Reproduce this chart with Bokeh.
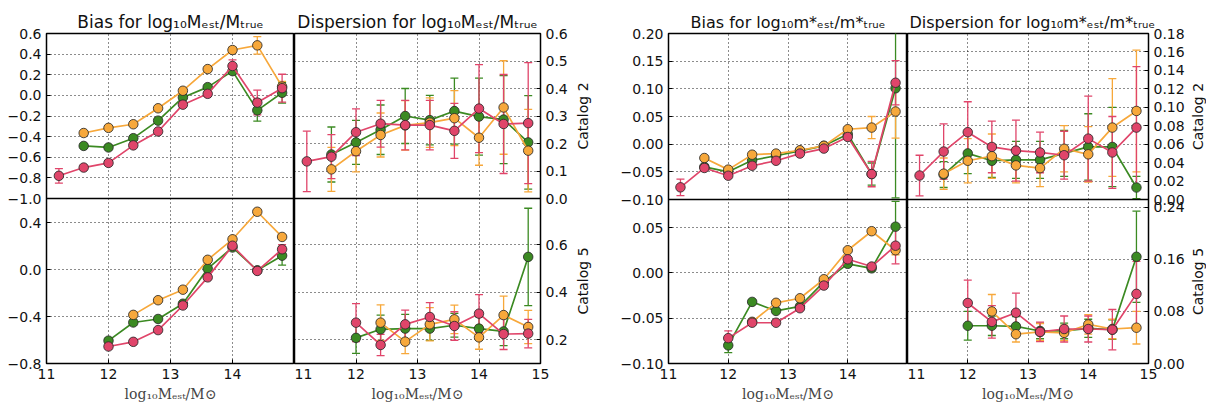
import numpy as np
from math import pi
from bokeh.plotting import figure
from bokeh.models import Range1d, FixedTicker, ColumnDataSource, Whisker, TeeHead, Span, Label
from bokeh.layouts import row
from bokeh.embed import file_html
from bokeh.resources import INLINE

nan = float("nan")

# ---------------- data ----------------
x_bins = [11.2, 11.6, 12.0, 12.4, 12.8, 13.2, 13.6, 14.0, 14.4, 14.8]
x_ticks = [11, 12, 13, 14, 15]

# Halo mass, bias, catalog 2
hm_bias_c2_green = [nan, -0.49, -0.505, -0.415, -0.245, -0.02, 0.08, 0.235, -0.145, 0.025]
hm_bias_c2_green_err = [nan, 0.02, 0.02, 0.02, 0.02, 0.02, 0.02, 0.03, 0.105, 0.10]
hm_bias_c2_orange = [nan, -0.365, -0.315, -0.28, -0.125, 0.045, 0.255, 0.44, 0.485, 0.085]
hm_bias_c2_orange_err = [nan, 0.02, 0.02, 0.02, 0.02, 0.02, 0.02, 0.03, 0.085, 0.05]
hm_bias_c2_red = [-0.78, -0.70, -0.655, -0.485, -0.35, -0.09, 0.015, 0.285, -0.07, 0.07]
hm_bias_c2_red_err = [0.07, 0.02, 0.02, 0.02, 0.02, 0.02, 0.02, 0.06, 0.12, 0.135]

# Halo mass, dispersion, catalog 2
hm_disp_c2_green = [nan, 0.16, 0.204, 0.25, 0.30, 0.285, 0.318, 0.298, 0.287, 0.204]
hm_disp_c2_green_err = [nan, 0.10, 0.08, 0.09, 0.10, 0.09, 0.12, 0.14, 0.16, 0.17]
hm_disp_c2_orange = [nan, 0.106, 0.172, 0.231, 0.266, 0.276, 0.292, 0.221, 0.331, 0.174]
hm_disp_c2_orange_err = [nan, 0.08, 0.075, 0.08, 0.09, 0.09, 0.10, 0.10, 0.17, 0.15]
hm_disp_c2_red = [0.135, 0.152, 0.241, 0.272, 0.267, 0.267, 0.246, 0.327, 0.271, 0.274]
hm_disp_c2_red_err = [0.11, 0.08, 0.085, 0.085, 0.09, 0.09, 0.10, 0.16, 0.18, 0.22]

# Halo mass, bias, catalog 5
hm_bias_c5_green = [nan, nan, -0.605, -0.45, -0.42, -0.29, 0.01, 0.19, -0.005, 0.12]
hm_bias_c5_green_err = [nan, nan, 0.02, 0.02, 0.02, 0.02, 0.02, 0.02, 0.02, 0.08]
hm_bias_c5_orange = [nan, nan, nan, -0.385, -0.26, -0.17, 0.085, 0.26, 0.495, 0.28]
hm_bias_c5_orange_err = [nan, nan, nan, 0.02, 0.02, 0.02, 0.02, 0.02, 0.02, 0.02]
hm_bias_c5_red = [nan, nan, -0.655, -0.615, -0.515, -0.305, -0.065, 0.205, -0.01, 0.175]
hm_bias_c5_red_err = [nan, nan, 0.02, 0.02, 0.02, 0.02, 0.02, 0.02, 0.02, 0.04]

# Halo mass, dispersion, catalog 5
hm_disp_c5_green = [nan, nan, 0.208, 0.244, 0.247, 0.247, 0.261, 0.247, 0.235, 0.549]
hm_disp_c5_green_err = [nan, nan, 0.065, 0.06, 0.06, 0.05, 0.05, 0.05, 0.06, 0.205]
hm_disp_c5_orange = [nan, nan, nan, 0.272, 0.192, 0.265, 0.286, 0.21, 0.304, 0.254]
hm_disp_c5_orange_err = [nan, nan, nan, 0.075, 0.05, 0.07, 0.06, 0.05, 0.08, 0.07]
hm_disp_c5_red = [nan, nan, 0.272, 0.178, 0.265, 0.296, 0.258, 0.31, 0.224, 0.226]
hm_disp_c5_red_err = [nan, nan, 0.08, 0.045, 0.06, 0.06, 0.06, 0.08, 0.065, 0.06]

# Stellar mass, bias, catalog 2
sm_bias_c2_green = [nan, -0.041, -0.050, -0.029, -0.021, -0.012, -0.003, 0.018, -0.054, 0.101]
sm_bias_c2_green_err = [nan, 0.003, 0.003, 0.003, 0.003, 0.003, 0.003, 0.004, 0.02, 0.198]
sm_bias_c2_orange = [nan, -0.025, -0.046, -0.019, -0.017, -0.011, -0.003, 0.027, 0.030, 0.059]
sm_bias_c2_orange_err = [nan, 0.003, 0.003, 0.003, 0.003, 0.003, 0.003, 0.004, 0.02, 0.048]
sm_bias_c2_red = [-0.078, -0.043, -0.057, -0.039, -0.030, -0.017, -0.008, 0.013, -0.054, 0.111]
sm_bias_c2_red_err = [0.015, 0.003, 0.003, 0.003, 0.003, 0.003, 0.003, 0.004, 0.023, 0.04]

# Stellar mass, dispersion, catalog 2
sm_disp_c2_green = [nan, 0.027, 0.050, 0.042, 0.043, 0.043, 0.050, 0.057, 0.057, 0.013]
sm_disp_c2_green_err = [nan, 0.014, 0.022, 0.018, 0.02, 0.02, 0.025, 0.036, 0.043, 0.012]
sm_disp_c2_orange = [nan, 0.028, 0.042, 0.047, 0.037, 0.034, 0.055, 0.049, 0.078, 0.096]
sm_disp_c2_orange_err = [nan, 0.017, 0.024, 0.024, 0.019, 0.02, 0.025, 0.03, 0.053, 0.066]
sm_disp_c2_red = [0.026, 0.052, 0.073, 0.057, 0.053, 0.051, 0.048, 0.066, 0.051, 0.078]
sm_disp_c2_red_err = [0.022, 0.03, 0.033, 0.028, 0.033, 0.022, 0.026, 0.046, 0.039, 0.066]

# Stellar mass, bias, catalog 5
sm_bias_c5_green = [nan, nan, -0.080, -0.032, -0.042, -0.037, -0.010, 0.010, 0.005, 0.051]
sm_bias_c5_green_err = [nan, nan, 0.008, 0.002, 0.002, 0.002, 0.002, 0.002, 0.003, 0.028]
sm_bias_c5_orange = [nan, nan, nan, -0.054, -0.033, -0.028, -0.007, 0.025, 0.046, 0.025]
sm_bias_c5_orange_err = [nan, nan, nan, 0.002, 0.002, 0.002, 0.002, 0.002, 0.002, 0.005]
sm_bias_c5_red = [nan, nan, -0.072, -0.055, -0.055, -0.039, -0.014, 0.015, 0.007, 0.030]
sm_bias_c5_red_err = [nan, nan, 0.008, 0.002, 0.002, 0.002, 0.002, 0.002, 0.003, 0.02]

# Stellar mass, dispersion, catalog 5
sm_disp_c5_green = [nan, nan, 0.058, 0.058, 0.057, 0.050, 0.050, 0.054, 0.052, 0.164]
sm_disp_c5_green_err = [nan, nan, 0.022, 0.015, 0.015, 0.012, 0.012, 0.014, 0.015, 0.07]
sm_disp_c5_orange = [nan, nan, nan, 0.080, 0.045, 0.0485, 0.047, 0.060, 0.053, 0.055]
sm_disp_c5_orange_err = [nan, nan, nan, 0.026, 0.012, 0.013, 0.012, 0.015, 0.015, 0.025]
sm_disp_c5_red = [nan, nan, 0.093, 0.064, 0.078, 0.0485, 0.053, 0.053, 0.052, 0.107]
sm_disp_c5_red_err = [nan, nan, 0.035, 0.025, 0.03, 0.015, 0.02, 0.02, 0.031, 0.05]

# axis limits and ticks
hm_bias_c2_lim = (-1.0, 0.6)
hm_bias_c2_ticks = [-1.0, -0.8, -0.6, -0.4, -0.2, 0.0, 0.2, 0.4, 0.6]
hm_bias_c5_lim = (-0.8, 0.608)
hm_bias_c5_ticks = [-0.8, -0.4, 0.0, 0.4]
hm_disp_c2_lim = (0.0, 0.6)
hm_disp_c2_ticks = [0.0, 0.1, 0.2, 0.3, 0.4, 0.5, 0.6]
hm_disp_c5_lim = (0.1, 0.795)
hm_disp_c5_ticks = [0.2, 0.4, 0.6]
sm_bias_c2_lim = (-0.10, 0.20)
sm_bias_c2_ticks = [-0.10, -0.05, 0.00, 0.05, 0.10, 0.15, 0.20]
sm_bias_c5_lim = (-0.10, 0.081)
sm_bias_c5_ticks = [-0.10, -0.05, 0.00, 0.05]
sm_disp_c2_lim = (0.0, 0.18)
sm_disp_c2_ticks = [0.00, 0.02, 0.04, 0.06, 0.08, 0.10, 0.12, 0.14, 0.16, 0.18]
sm_disp_c5_lim = (0.0, 0.252)
sm_disp_c5_ticks = [0.00, 0.08, 0.16, 0.24]

catalog_labels = ["Catalog 2", "Catalog 5"]

# ---------------- styling ----------------
COL_GREEN = "#3B8A22"
COL_ORANGE = "#F7A83B"
COL_RED = "#E0456A"
SANS = "DejaVu Sans"
SERIF = "DejaVu Serif"
XLABEL = "log\u2081\u2080M\u2091\u209b\u209c/M\u2299"


def fmt(t, nd):
    s = f"{t:.{nd}f}"
    if s.startswith("-"):
        s = "\u2212" + s[1:]
    return s


def add_series(p, rname, y, err, color):
    y = np.array(y, dtype=float)
    e = np.array(err, dtype=float)
    src = ColumnDataSource(dict(x=np.array(x_bins), y=y, lower=y - e, upper=y + e))
    w = Whisker(source=src, base="x", lower="lower", upper="upper", y_range_name=rname,
                line_color=color, line_width=1.3,
                upper_head=TeeHead(size=8, line_color=color, line_width=1.3),
                lower_head=TeeHead(size=8, line_color=color, line_width=1.3))
    p.add_layout(w)
    p.line("x", "y", source=src, y_range_name=rname, line_color=color, line_width=1.7)
    p.scatter("x", "y", source=src, y_range_name=rname, size=9.5, fill_color=color,
              line_color="#2a2a2a", line_alpha=0.85, line_width=1)


def make_column(width, b_left, b_right, b_top, b_bottom, f, side, title,
                top_lim, top_ticks, top_nd, top_series,
                bot_lim, bot_ticks, bot_nd, bot_series,
                hide_last_x=False, title_size="17px", title_align="center", title_offset=0):
    p = figure(width=width, height=416, x_range=Range1d(11, 15), y_range=Range1d(0, 1),
               output_backend="svg", toolbar_location=None, y_axis_location=side,
               min_border_left=b_left, min_border_right=b_right,
               min_border_top=b_top, min_border_bottom=b_bottom, title=title)
    tlo, thi = top_lim
    blo, bhi = bot_lim
    p.extra_y_ranges = {
        "top": Range1d(tlo - (thi - tlo) * f / (1 - f), thi),
        "bot": Range1d(blo, bhi + (bhi - blo) * (1 - f) / f),
    }
    positions, overrides = [], {}
    for t in top_ticks:
        ps = round(f + (t - tlo) / (thi - tlo) * (1 - f), 9)
        positions.append(ps)
        overrides[ps] = fmt(t, top_nd)
    for t in bot_ticks:
        ps = round((t - blo) / (bhi - blo) * f, 9)
        positions.append(ps)
        overrides[ps] = fmt(t, bot_nd)
    ax = p.yaxis[0]
    ax.ticker = FixedTicker(ticks=positions)
    ax.major_label_overrides = overrides
    p.xaxis.ticker = FixedTicker(ticks=x_ticks)
    if hide_last_x:
        p.xaxis.major_label_overrides = {x_ticks[-1]: ""}
    p.xaxis.axis_label = XLABEL
    p.xaxis.axis_label_text_font = SERIF
    p.xaxis.axis_label_text_font_style = "normal"
    p.xaxis.axis_label_text_font_size = "14px"
    p.xaxis.axis_label_standoff = 4
    for a in p.axis:
        a.major_tick_in = 4
        a.major_tick_out = 0
        a.minor_tick_line_color = None
        a.major_label_text_font = SANS
        a.major_label_text_font_size = "14px"
        a.major_label_text_color = "#111111"
        a.major_label_standoff = 5
        a.axis_line_color = "black"
    for g in p.grid:
        g.grid_line_color = "black"
        g.grid_line_dash = "1 3"
        g.grid_line_width = 1
        g.grid_line_alpha = 0.9
    p.outline_line_color = "black"
    p.outline_line_width = 1.5
    p.background_fill_color = "white"
    p.border_fill_color = "white"
    p.title.align = title_align
    p.title.offset = title_offset
    p.title.text_font = SANS
    p.title.text_font_size = title_size
    p.title.text_font_style = "normal"
    p.title.text_color = "#111111"
    p.title.standoff = 3
    p.add_layout(Span(location=f, dimension="width", line_color="black", line_width=1.5))
    for (y, e, c) in top_series:
        add_series(p, "top", y, e, c)
    for (y, e, c) in bot_series:
        add_series(p, "bot", y, e, c)
    return p


def make_label_strip(col, width, b_top, b_bottom, x_center, top_lim, bot_lim):
    q = figure(width=width, height=416, x_range=Range1d(0, width), y_range=col.y_range,
               output_backend="svg", toolbar_location=None,
               x_axis_location=None, y_axis_location=None,
               min_border_left=0, min_border_right=0,
               min_border_top=b_top, min_border_bottom=b_bottom)
    q.extra_y_ranges = col.extra_y_ranges
    q.grid.visible = False
    q.outline_line_color = None
    q.background_fill_color = "white"
    q.border_fill_color = "white"
    for rname, lim, txt in (("top", top_lim, catalog_labels[0]), ("bot", bot_lim, catalog_labels[1])):
        q.add_layout(Label(x=x_center, y=(lim[0] + lim[1]) / 2, y_range_name=rname,
                           text=txt, angle=pi / 2, text_align="center", text_baseline="middle",
                           text_font=SANS, text_font_size="14px", text_color="#111111"))
    return q


f_left = 0.5
f_right = 164 / 330

p1 = make_column(294, 46, 0, 30, 48, f_left, "left",
                 "Bias for log\u2081\u2080M\u2091\u209b\u209c/M\u209c\u1d63\u1d64\u2091",
                 hm_bias_c2_lim, hm_bias_c2_ticks, 1,
                 [(hm_bias_c2_green, hm_bias_c2_green_err, COL_GREEN),
                  (hm_bias_c2_orange, hm_bias_c2_orange_err, COL_ORANGE),
                  (hm_bias_c2_red, hm_bias_c2_red_err, COL_RED)],
                 hm_bias_c5_lim, hm_bias_c5_ticks, 1,
                 [(hm_bias_c5_green, hm_bias_c5_green_err, COL_GREEN),
                  (hm_bias_c5_orange, hm_bias_c5_orange_err, COL_ORANGE),
                  (hm_bias_c5_red, hm_bias_c5_red_err, COL_RED)],
                 hide_last_x=True)

p2 = make_column(276, 0, 30, 30, 48, f_left, "right",
                 "Dispersion for log\u2081\u2080M\u2091\u209b\u209c/M\u209c\u1d63\u1d64\u2091",
                 hm_disp_c2_lim, hm_disp_c2_ticks, 1,
                 [(hm_disp_c2_green, hm_disp_c2_green_err, COL_GREEN),
                  (hm_disp_c2_orange, hm_disp_c2_orange_err, COL_ORANGE),
                  (hm_disp_c2_red, hm_disp_c2_red_err, COL_RED)],
                 hm_disp_c5_lim, hm_disp_c5_ticks, 1,
                 [(hm_disp_c5_green, hm_disp_c5_green_err, COL_GREEN),
                  (hm_disp_c5_orange, hm_disp_c5_orange_err, COL_ORANGE),
                  (hm_disp_c5_red, hm_disp_c5_red_err, COL_RED)])
s2 = make_label_strip(p2, 40, 30, 48, 12, hm_disp_c2_lim, hm_disp_c5_lim)

p3 = make_column(297, 58, 0, 33, 53, f_right, "left",
                 "Bias for log\u2081\u2080m*\u2091\u209b\u209c/m*\u209c\u1d63\u1d64\u2091",
                 sm_bias_c2_lim, sm_bias_c2_ticks, 2,
                 [(sm_bias_c2_green, sm_bias_c2_green_err, COL_GREEN),
                  (sm_bias_c2_orange, sm_bias_c2_orange_err, COL_ORANGE),
                  (sm_bias_c2_red, sm_bias_c2_red_err, COL_RED)],
                 sm_bias_c5_lim, sm_bias_c5_ticks, 2,
                 [(sm_bias_c5_green, sm_bias_c5_green_err, COL_GREEN),
                  (sm_bias_c5_orange, sm_bias_c5_orange_err, COL_ORANGE),
                  (sm_bias_c5_red, sm_bias_c5_red_err, COL_RED)],
                 hide_last_x=True, title_size="16px")

p4 = make_column(281, 0, 40, 33, 53, f_right, "right",
                 "Dispersion for log\u2081\u2080m*\u2091\u209b\u209c/m*\u209c\u1d63\u1d64\u2091",
                 sm_disp_c2_lim, sm_disp_c2_ticks, 2,
                 [(sm_disp_c2_green, sm_disp_c2_green_err, COL_GREEN),
                  (sm_disp_c2_orange, sm_disp_c2_orange_err, COL_ORANGE),
                  (sm_disp_c2_red, sm_disp_c2_red_err, COL_RED)],
                 sm_disp_c5_lim, sm_disp_c5_ticks, 2,
                 [(sm_disp_c5_green, sm_disp_c5_green_err, COL_GREEN),
                  (sm_disp_c5_orange, sm_disp_c5_orange_err, COL_ORANGE),
                  (sm_disp_c5_red, sm_disp_c5_red_err, COL_RED)],
                 title_size="16px", title_align="left", title_offset=2)
s4 = make_label_strip(p4, 18, 33, 53, 9, sm_disp_c2_lim, sm_disp_c5_lim)

layout = row(p1, p2, s2, p3, p4, s4)
open("out.html", "w").write(file_html(layout, INLINE))
